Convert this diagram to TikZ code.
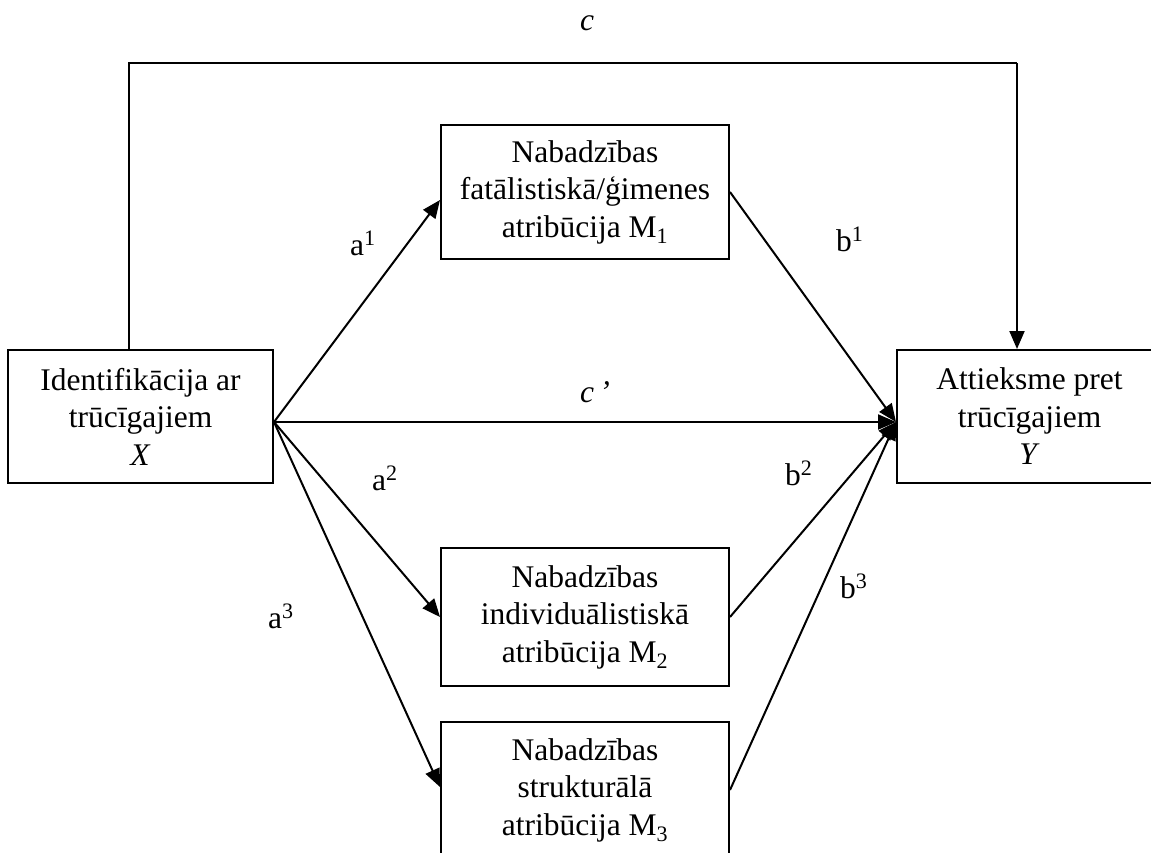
\documentclass[tikz,border=0pt]{standalone}
\usepackage{fontspec}
\setmainfont{Liberation Serif}
\usetikzlibrary{arrows.meta}
\begin{document}
\begin{tikzpicture}[x=1pt,y=-1pt,
  txt/.style={font=\fontsize{31.5}{37.5}\selectfont},
  box/.style={txt,draw,line width=2pt,align=center,inner sep=0pt},
  conn/.style={line width=2pt,-{Triangle[length=18pt,width=15pt]}},
  lbl/.style={txt,inner sep=0pt,anchor=base west}]
\clip (0,0) rectangle (1151,852);
\node[box,minimum width=265pt,minimum height=133pt] (X) at (140.5,416.5) {Identifikācija ar\\trūcīgajiem\\\textit{X}};
\node[box,minimum width=265pt,minimum height=133pt] (Y) at (1029.5,416.5) {Attieksme pret\\trūcīgajiem\\\textit{Y}};
\node[box,minimum width=288pt,minimum height=134pt] (M1) at (585,192) {Nabadzības\\fatālistiskā/ģimenes\\atribūcija M\textsubscript{1}};
\node[box,minimum width=288pt,minimum height=138pt] (M2) at (585,617) {Nabadzības\\individuālistiskā\\atribūcija M\textsubscript{2}};
\node[box,minimum width=288pt,minimum height=136pt] (M3) at (585,790) {Nabadzības\\strukturālā\\atribūcija M\textsubscript{3}};
\coordinate (xo) at ([yshift=-5.5pt]X.east);
\coordinate (yi) at ([yshift=-5.5pt]Y.west);
\coordinate (ctop1) at (129,63);
\coordinate (ctop2) at (1017,63);
\draw[line width=2pt] ([xshift=-11.5pt]X.north) -- (ctop1) -- (ctop2);
\draw[conn] (ctop2) -- (ctop2 |- Y.north);
\draw[conn] (xo) -- ([yshift=-8pt]M1.west);
\draw[conn] (xo) -- (M2.west);
\draw[conn] (xo) -- ([yshift=3pt]M3.west);
\draw[conn] (xo) -- (yi);
\draw[conn] (M1.east) -- (yi);
\draw[conn] (M2.east) -- (yi);
\draw[conn] (M3.east) -- (yi);
\node[lbl] (lc) at (580,30) {\textit{c}};
\node[lbl] (lcp) at (580,402) {\textit{c\,’}};
\node[lbl] (la1) at (350,255) {a\textsuperscript{1}};
\node[lbl] (la2) at (372,490) {a\textsuperscript{2}};
\node[lbl] (la3) at (268,628) {a\textsuperscript{3}};
\node[lbl] (lb1) at (836,251) {b\textsuperscript{1}};
\node[lbl] (lb2) at (785,485) {b\textsuperscript{2}};
\node[lbl] (lb3) at (840,598) {b\textsuperscript{3}};
\end{tikzpicture}
\end{document}
